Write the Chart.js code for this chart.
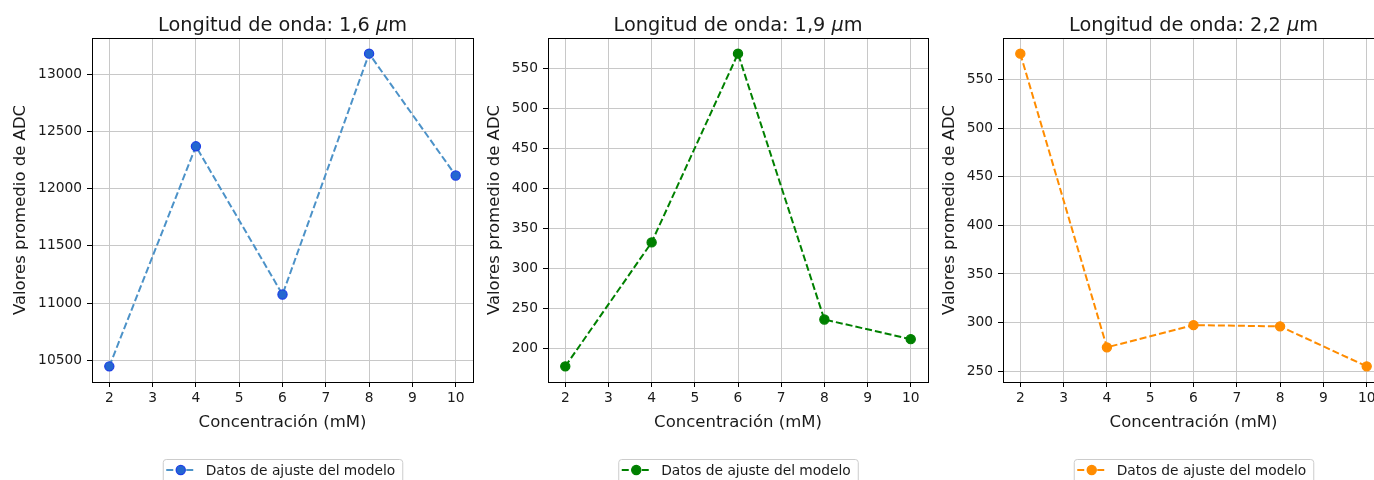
<!DOCTYPE html>
<html>
<head>
<meta charset="utf-8">
<script src="https://cdn.jsdelivr.net/npm/chart.js@4"></script>
<style>
  body { margin: 0; background: #fff; width: 1374px; height: 480px; overflow: hidden; position: relative; }
  canvas { position: absolute; top: 0; }
</style>
</head>
<body>
<canvas id="g16" width="480" height="480" style="left:0px"></canvas>
<canvas id="g19" width="460" height="480" style="left:480px"></canvas>
<canvas id="g22" width="460" height="480" style="left:940px"></canvas>
<script>
// datos
const concentraciones = [2, 4, 6, 8, 10];
const adc16 = [10448, 12369, 11075, 13178, 12114];
const adc19 = [178, 333, 569, 236.6, 212];
const adc22 = [577, 274.4, 297.3, 296, 254.8];
const longitudes = ['1,6', '1,9', '2,2'];
const xTicks = [2, 3, 4, 5, 6, 7, 8, 9, 10];
const yTicks16 = [10500, 11000, 11500, 12000, 12500, 13000];
const yTicks19 = [200, 250, 300, 350, 400, 450, 500, 550];
const yTicks22 = [250, 300, 350, 400, 450, 500, 550];
const etiquetaLeyenda = 'Datos de ajuste del modelo';

const FONT = 'DejaVu Sans';
const TXT = '#1a1a1a';

// margen automatico de 5% como matplotlib
function limites(vals) {
  const lo = Math.min(...vals), hi = Math.max(...vals);
  const m = (hi - lo) * 0.05;
  return [lo - m, hi + m];
}

const decoPlugin = {
  id: 'deco',
  afterDraw(chart, args, o) {
    const ctx = chart.ctx;
    const a = chart.chartArea;
    const cx = (a.left + a.right) / 2;
    ctx.save();

    // marco
    ctx.strokeStyle = '#000';
    ctx.lineWidth = 1;
    ctx.strokeRect(Math.round(a.left) + 0.5, Math.round(a.top) + 0.5,
      Math.round(a.right) - Math.round(a.left), Math.round(a.bottom) - Math.round(a.top));

    // titulo con mu en cursiva
    const partes = [
      ['Longitud de onda: ' + o.longitud + ' ', '19.3px ' + FONT],
      ['\u03bc', 'italic 19.3px ' + FONT],
      ['m', '19.3px ' + FONT]
    ];
    let total = 0;
    partes.forEach(p => { ctx.font = p[1]; total += ctx.measureText(p[0]).width; });
    let x = cx - total / 2;
    ctx.fillStyle = TXT;
    ctx.textBaseline = 'alphabetic';
    ctx.textAlign = 'left';
    partes.forEach(p => {
      ctx.font = p[1];
      ctx.fillText(p[0], x, 31);
      x += ctx.measureText(p[0]).width;
    });

    // leyenda
    ctx.font = '13.8px ' + FONT;
    const tw = ctx.measureText(etiquetaLeyenda).width;
    const w = 43 + tw + 7;
    const bx = cx - w / 2;
    ctx.beginPath();
    ctx.roundRect(bx + 0.5, 459.5, w, 26, 3);
    ctx.fillStyle = 'rgba(255,255,255,0.8)';
    ctx.fill();
    ctx.strokeStyle = '#cccccc';
    ctx.stroke();

    ctx.beginPath();
    ctx.setLineDash([7, 3]);
    ctx.lineWidth = 2;
    ctx.strokeStyle = o.linea;
    ctx.moveTo(bx + 3.5, 470);
    ctx.lineTo(bx + 33, 470);
    ctx.stroke();
    ctx.setLineDash([]);
    ctx.beginPath();
    ctx.arc(bx + 18, 470, 4.6, 0, Math.PI * 2);
    ctx.fillStyle = o.relleno;
    ctx.fill();
    ctx.lineWidth = 1.2;
    ctx.strokeStyle = o.borde;
    ctx.stroke();

    ctx.fillStyle = TXT;
    ctx.fillText(etiquetaLeyenda, bx + 43, 475);
    ctx.restore();
  }
};

function grafico(id, valores, yTicks, longitud, estilo, caja) {
  const [ymin, ymax] = limites(valores);
  const [xmin, xmax] = limites(concentraciones);
  new Chart(document.getElementById(id), {
    type: 'line',
    data: {
      datasets: [{
        label: etiquetaLeyenda,
        data: concentraciones.map((c, i) => ({ x: c, y: valores[i] })),
        borderColor: estilo.linea,
        borderWidth: 2,
        borderDash: [7, 3],
        pointRadius: 4.6,
        pointBackgroundColor: estilo.relleno,
        pointBorderColor: estilo.borde,
        pointBorderWidth: 1.2,
        tension: 0,
        fill: false
      }]
    },
    options: {
      responsive: false,
      animation: false,
      layout: { padding: { left: 0, right: caja.derecha, top: 38, bottom: 38 } },
      plugins: {
        legend: { display: false },
        tooltip: { enabled: false },
        deco: { longitud: longitud, linea: estilo.linea, relleno: estilo.relleno, borde: estilo.borde }
      },
      scales: {
        x: {
          type: 'linear',
          min: xmin, max: xmax,
          afterFit: s => { s.height = 60; },
          afterBuildTicks: s => { s.ticks = xTicks.map(v => ({ value: v })); },
          grid: { color: '#c8c8c8', lineWidth: 1, tickLength: 5, tickColor: '#000' },
          border: { display: false },
          ticks: { padding: 3, color: TXT, font: { family: FONT, size: 13.8 }, maxRotation: 0,
                   callback: v => String(v) },
          title: { display: true, text: 'Concentración (mM)', color: TXT,
                   font: { family: FONT, size: 16.5 }, padding: { top: 0, bottom: 9.5 } }
        },
        y: {
          type: 'linear',
          min: ymin, max: ymax,
          afterFit: s => { s.width = caja.ancho; },
          afterBuildTicks: s => { s.ticks = yTicks.map(v => ({ value: v })); },
          grid: { color: '#c8c8c8', lineWidth: 1, tickLength: 5, tickColor: '#000' },
          border: { display: false },
          ticks: { padding: 5, color: TXT, font: { family: FONT, size: 13.8 },
                   callback: v => String(v) },
          title: { display: true, text: 'Valores promedio de ADC', color: TXT,
                   font: { family: FONT, size: 16.5 }, padding: { top: caja.titulo, bottom: 0 } }
        }
      }
    },
    plugins: [decoPlugin]
  });
}

grafico('g16', adc16, yTicks16, longitudes[0],
  { linea: '#4c92c8', relleno: '#2467d0', borde: '#1c3fe6' },
  { ancho: 92, derecha: 7, titulo: 11.2 });
grafico('g19', adc19, yTicks19, longitudes[1],
  { linea: '#008000', relleno: '#008000', borde: '#008000' },
  { ancho: 68, derecha: 12, titulo: 5.2 });
grafico('g22', adc22, yTicks22, longitudes[2],
  { linea: '#ff8c00', relleno: '#ff8c00', borde: '#ff8c00' },
  { ancho: 63, derecha: 16, titulo: 0 });
</script>
</body>
</html>
